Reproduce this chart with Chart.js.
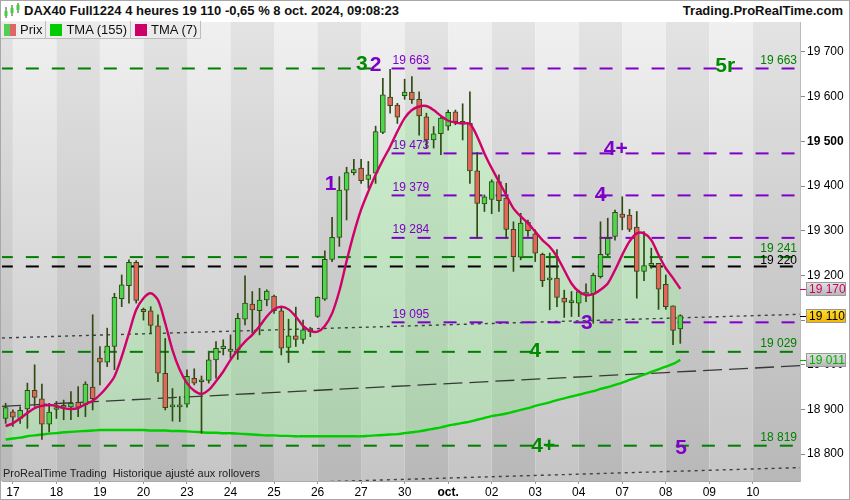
<!DOCTYPE html>
<html>
<head>
<meta charset="utf-8">
<script src="https://cdn.jsdelivr.net/npm/chart.js@4.4.1/dist/chart.umd.min.js"></script>
<style>
  body { margin: 0; background: #fff; font-family: "Liberation Sans", Arial, sans-serif; }
  #wrap { position: relative; width: 850px; height: 500px; overflow: hidden; }
  #chart { position: absolute; left: 0; top: 0; }
  #title { position: absolute; left: 0; top: 0; width: 850px; height: 21px; background: #fff; }
  #title .l { position: absolute; left: 24px; top: 3px; font-weight: bold; font-size: 13px; color: #111; white-space: nowrap; }
  #title .r { position: absolute; right: 7px; top: 3px; font-weight: bold; font-size: 13px; color: #111; }
  #title svg { position: absolute; left: 3px; top: 3px; }
  #legend { position: absolute; left: 0; top: 21px; height: 18px; display: flex; }
  #legend div { height: 17px; border-right: 1px solid #bdbdbd; border-bottom: 1px solid #bdbdbd; background: rgba(238,238,238,0.7);
    font-size: 13px; line-height: 17px; padding: 0 3px 0 4px; display: flex; align-items: center; color: #111; }
  #legend i { display: inline-block; width: 12px; height: 12px; margin-right: 4px; }
  #foot { position: absolute; left: 3px; top: 467px; font-size: 11px; color: #222; white-space: nowrap; }
  #frame { position: absolute; left: 0; top: 0; width: 848px; height: 498px; border: 1px solid #a8a8a8; pointer-events: none; }
</style>
</head>
<body>
<div id="wrap">
  <canvas id="chart" width="850" height="500"></canvas>
  <div id="title">
    <svg width="18" height="16" viewBox="0 0 18 16">
      <line x1="3" y1="4" x2="3" y2="15" stroke="#2d5a10"/><rect x="1.5" y="8" width="3" height="5" fill="#44cc44"/>
      <line x1="9" y1="2" x2="9" y2="13" stroke="#2d5a10"/><rect x="7.5" y="5" width="3" height="5" fill="#44cc44"/>
      <line x1="15" y1="0" x2="15" y2="10" stroke="#2d5a10"/><rect x="13.5" y="2" width="3" height="5" fill="#44cc44"/>
    </svg>
    <span class="l" id="titleText"></span>
    <span class="r">Trading.ProRealTime.com</span>
  </div>
  <div id="legend">
    <div><i style="background:linear-gradient(90deg,#55cc55 50%,#e06666 50%)"></i>Prix</div>
    <div><i style="background:#00cc00"></i>TMA (155)</div>
    <div><i style="background:#cc0066"></i>TMA (7)</div>
  </div>
  <div id="foot">ProRealTime Trading&nbsp; Historique ajusté aux rollovers</div>
  <div id="frame"></div>
</div>
<script>
// day labels, one every 6 candles (4h bars)
const days = ['17', '18', '19', '20', '23', '24', '25', '26', '27', '30', 'oct.', '02', '03', '04', '07', '08', '09', '10'];

const opens = [18880, 18895, 18880, 18901, 18943, 18924, 18867, 18900, 18905, 18906, 18916, 18910, 18950, 19015, 19006, 19041,
  19148, 19177, 19229, 19124, 19121, 19087, 18981, 18906, 18906, 18912, 18970, 18962, 18965, 19011, 19036, 19030,
  19033, 19102, 19136, 19121, 19145, 19154, 19121, 19039, 19065, 19057, 19074, 19108, 19147, 19236, 19285, 19391,
  19430, 19440, 19415, 19429, 19520, 19599, 19581, 19602, 19610, 19594, 19555, 19503, 19517, 19534, 19566, 19544,
  19540, 19434, 19360, 19370, 19410, 19373, 19303, 19241, 19319, 19293, 19247, 19190, 19194, 19149, 19139, 19138,
  19158, 19159, 19197, 19247, 19287, 19337, 19335, 19308, 19209, 19222, 19227, 19180, 19132, 19080];
const highs = [18914, 18899, 18906, 18959, 19000, 18957, 18914, 18918, 18921, 18940, 18951, 18962, 19112, 19041, 19082, 19160,
  19201, 19235, 19233, 19127, 19130, 19112, 19059, 18947, 18929, 18989, 18991, 18975, 19027, 19052, 19056, 19067,
  19115, 19199, 19164, 19171, 19168, 19156, 19127, 19102, 19129, 19100, 19084, 19152, 19255, 19330, 19421, 19442,
  19460, 19460, 19455, 19534, 19641, 19661, 19585, 19639, 19645, 19611, 19563, 19533, 19555, 19570, 19570, 19584,
  19611, 19475, 19380, 19414, 19425, 19406, 19320, 19339, 19324, 19302, 19250, 19250, 19258, 19167, 19164, 19167,
  19181, 19205, 19320, 19328, 19346, 19376, 19348, 19343, 19298, 19261, 19227, 19201, 19132, 19112];
const lows = [18869, 18862, 18869, 18858, 18907, 18833, 18850, 18880, 18877, 18877, 18884, 18884, 18899, 18955, 18996, 18989,
  19130, 19138, 19138, 19100, 19071, 18962, 18899, 18874, 18873, 18905, 18955, 18847, 18959, 18970, 19022, 19015,
  19012, 19089, 19071, 19067, 19132, 19115, 19022, 19005, 19041, 19048, 19063, 19106, 19144, 19231, 19265, 19324,
  19425, 19406, 19395, 19406, 19517, 19563, 19540, 19594, 19585, 19514, 19485, 19485, 19470, 19525, 19537, 19503,
  19406, 19283, 19343, 19338, 19343, 19283, 19209, 19235, 19287, 19231, 19175, 19123, 19130, 19106, 19108, 19108,
  19141, 19093, 19194, 19244, 19279, 19302, 19298, 19149, 19188, 19216, 19124, 19124, 19045, 19048];
const closes = [18904, 18883, 18898, 18943, 18927, 18867, 18894, 18902, 18909, 18914, 18905, 18957, 18924, 19006, 19042, 19151,
  19179, 19229, 19144, 19119, 19088, 18981, 18904, 18908, 18908, 18974, 18959, 18964, 19011, 19037, 19042, 19035,
  19104, 19138, 19123, 19145, 19165, 19121, 19037, 19065, 19057, 19078, 19080, 19151, 19236, 19285, 19391, 19430,
  19437, 19412, 19425, 19522, 19604, 19580, 19554, 19610, 19593, 19557, 19503, 19517, 19552, 19565, 19544, 19540,
  19434, 19361, 19376, 19410, 19367, 19303, 19242, 19317, 19300, 19250, 19188, 19192, 19151, 19140, 19141, 19164,
  19160, 19200, 19247, 19283, 19341, 19330, 19303, 19209, 19222, 19227, 19169, 19130, 19077, 19110];

const tma7 = [18863, 18869, 18880, 18892, 18903, 18908, 18910, 18908, 18903, 18901, 18903, 18912, 18919, 18933, 18951, 18974,
  19018, 19071, 19123, 19149, 19160, 19145, 19093, 19033, 18989, 18959, 18942, 18935, 18944, 18963, 18985, 19011,
  19033, 19052, 19067, 19086, 19108, 19124, 19130, 19124, 19108, 19087, 19076, 19074, 19087, 19115, 19165, 19232,
  19294, 19347, 19388, 19425, 19458, 19488, 19522, 19552, 19570, 19578, 19579, 19570, 19557, 19546, 19542, 19540,
  19539, 19511, 19473, 19440, 19410, 19380, 19350, 19332, 19317, 19298, 19279, 19264, 19242, 19212, 19182, 19164,
  19156, 19158, 19168, 19182, 19212, 19246, 19276, 19294, 19294, 19279, 19246, 19216, 19194, 19170];
const tma155 = [18833, 18835, 18837, 18840, 18842, 18844, 18846, 18847, 18849, 18850, 18851, 18852, 18853, 18854, 18854, 18854,
  18854, 18854, 18854, 18854, 18853, 18853, 18853, 18852, 18852, 18851, 18850, 18849, 18848, 18848, 18847, 18847,
  18846, 18845, 18844, 18843, 18842, 18842, 18841, 18841, 18840, 18840, 18840, 18840, 18840, 18840, 18840, 18840,
  18840, 18840, 18841, 18842, 18843, 18844, 18845, 18847, 18849, 18851, 18854, 18857, 18860, 18864, 18867, 18870,
  18873, 18877, 18881, 18885, 18888, 18891, 18895, 18899, 18903, 18908, 18912, 18916, 18921, 18925, 18929, 18933,
  18937, 18941, 18946, 18950, 18955, 18960, 18966, 18972, 18978, 18984, 18990, 18996, 19002, 19011];

// horizontal levels
const greenLevels = [19663, 19241, 19029, 18819];
const purpleLevels = [19663, 19473, 19379, 19284, 19095];
const blackLevels = [19220];
// trend lines: value at left edge, value at right edge
const trendDotted = [19060, 19113];
const trendDashed = [18907, 18998];
const trendLow = [18717, 18770];

const yTickValues = [18800, 18900, 19000, 19100, 19200, 19300, 19400, 19500, 19600, 19700];

// wave counts: text, colour, candle index, price
const waveLabels = [
  ['3', '#008a00', 49.1, 19674], ['2', '#7f00c8', 51.0, 19672], ['5r', '#008a00', 99.2, 19671],
  ['1', '#7f00c8', 44.8, 19406], ['4+', '#7f00c8', 84.1, 19485], ['4', '#7f00c8', 82.0, 19381],
  ['3', '#7f00c8', 80.1, 19096], ['4', '#008a00', 73.0, 19033], ['4+', '#008a00', 74.1, 18819],
  ['5', '#7f00c8', 93.1, 18815]
];

const GREEN = '#008000', PURPLE = '#7f00c8';
const X_MIN = -0.5, X_MAX = 109.5, PURPLE_FROM = 53.2, GREEN_TOP_TO = 50.4;
const dayStarts = days.map((d, k) => 1 + 6 * k);

const fmt = (n) => String(Math.round(n)).replace(/\B(?=(\d{3})+(?!\d))/g, ' ');
const last = (a) => a[a.length - 1];

document.getElementById('titleText').textContent =
  'DAX40 Full1224 4 heures ' + fmt(last(closes)) + ' -0,65 % 8 oct. 2024, 09:08:23';

const idx = opens.map((_, i) => i);

const levelLine = (v, from, to, color) => ({
  type: 'line', data: [{ x: from, y: v }, { x: to, y: v }], borderColor: color, borderWidth: 2,
  borderDash: [13, 13], pointRadius: 0, tension: 0, order: 4
});
const trendLine = (ends, color, dash, width) => ({
  type: 'line', data: [{ x: X_MIN, y: ends[0] }, { x: X_MAX, y: ends[1] }], borderColor: color,
  borderWidth: width, borderDash: dash, pointRadius: 0, tension: 0, order: 5
});

const datasets = [
  {
    type: 'line', data: idx.map(i => ({ x: i, y: tma7[i] })), borderColor: '#d1006a', borderWidth: 2.4,
    pointRadius: 0, tension: 0.3, order: 0,
    fill: { target: 1, above: 'rgba(150,245,150,0.35)', below: 'rgba(150,245,150,0.35)' }
  },
  {
    type: 'line', data: idx.map(i => ({ x: i, y: tma155[i] })), borderColor: '#00cc00', borderWidth: 2.4,
    pointRadius: 0, tension: 0.3, order: 3
  },
  {
    type: 'bar', data: idx.map(i => ({ x: i, y: [opens[i], closes[i]] })),
    backgroundColor: idx.map(i => closes[i] >= opens[i] ? '#4fd64f' : '#e2665c'),
    borderColor: '#2f4a12', borderWidth: 1, borderSkipped: false, barThickness: 5, minBarLength: 2,
    grouped: false, order: 1
  },
  {
    type: 'bar', data: idx.map(i => ({ x: i, y: [lows[i], highs[i]] })),
    backgroundColor: '#2f4a12', barThickness: 1, grouped: false, order: 2
  },
  trendLine(trendDotted, 'rgba(40,40,40,0.85)', [3, 4], 1.4),
  trendLine(trendDashed, 'rgba(30,30,30,0.85)', [19, 7], 1.3),
  trendLine(trendLow, 'rgba(40,40,40,0.85)', [3, 4], 1.4)
];
greenLevels.forEach((v, k) => datasets.push(levelLine(v, -0.8, k === 0 ? GREEN_TOP_TO : X_MAX, GREEN)));
purpleLevels.forEach(v => datasets.push(levelLine(v, PURPLE_FROM, X_MAX, PURPLE)));
blackLevels.forEach(v => datasets.push(levelLine(v, -0.8, X_MAX, '#000')));

const bgPlugin = {
  id: 'bg',
  beforeDraw(chart) {
    const { ctx, chartArea: a, scales: { x } } = chart;
    const edges = [null].concat(dayStarts);
    for (let k = 0; k < edges.length; k++) {
      const x0 = k === 0 ? 0 : x.getPixelForValue(edges[k]);
      const x1 = k + 1 < edges.length ? x.getPixelForValue(edges[k + 1]) : a.right;
      const lightDay = k > 0 && (k - 1) % 2 === 0;
      const g = ctx.createLinearGradient(0, a.top, 0, a.bottom);
      g.addColorStop(0, lightDay ? '#f0f0f0' : '#e3e3e3');
      g.addColorStop(1, lightDay ? '#c5c5c5' : '#b8b8b8');
      ctx.fillStyle = g;
      ctx.fillRect(x0, a.top, x1 - x0, a.bottom - a.top);
    }
  }
};

const textPlugin = {
  id: 'texts',
  afterDatasetsDraw(chart) {
    const { ctx, chartArea: a, scales: { x, y } } = chart;
    ctx.save();
    ctx.textBaseline = 'middle';
    ctx.font = '12px "Liberation Sans", Arial, sans-serif';
    ctx.textAlign = 'left';
    ctx.fillStyle = PURPLE;
    purpleLevels.forEach(v => ctx.fillText(fmt(v), x.getPixelForValue(PURPLE_FROM) + 1, y.getPixelForValue(v) - 8));
    ctx.textAlign = 'right';
    ctx.fillStyle = GREEN;
    greenLevels.forEach(v => ctx.fillText(fmt(v), a.right - 3, y.getPixelForValue(v) - 8));
    ctx.fillStyle = '#000';
    blackLevels.forEach(v => ctx.fillText(fmt(v), a.right - 3, y.getPixelForValue(v) - 6));
    ctx.textAlign = 'center';
    ctx.font = 'bold 21px "Liberation Sans", Arial, sans-serif';
    waveLabels.forEach(([t, c, i, v]) => {
      ctx.fillStyle = c;
      ctx.fillText(t, x.getPixelForValue(i), y.getPixelForValue(v) + 1);
    });
    ctx.restore();
  },
  afterDraw(chart) {
    const { ctx, scales: { y } } = chart;
    const boxes = [
      [last(tma7), '#cc0066', '#e4e4e4', '#b4b4b4'],
      [last(closes), '#000', '#ffdd33', '#f2b400'],
      [last(tma155), '#00b000', '#e4e4e4', '#b4b4b4']
    ];
    ctx.save();
    ctx.font = '12px "Liberation Sans", Arial, sans-serif';
    ctx.textBaseline = 'middle';
    ctx.textAlign = 'left';
    boxes.forEach(([v, col, c1, c2]) => {
      const py = Math.round(y.getPixelForValue(v));
      const x0 = y.left + 6, w = 40, h = 14;
      const g = ctx.createLinearGradient(0, py - h / 2, 0, py + h / 2);
      g.addColorStop(0, c1); g.addColorStop(1, c2);
      ctx.fillStyle = g;
      ctx.fillRect(x0, py - h / 2, w, h);
      ctx.strokeStyle = '#9a9a9a';
      ctx.lineWidth = 1;
      ctx.strokeRect(x0 + 0.5, py - h / 2 + 0.5, w - 1, h - 1);
      ctx.strokeStyle = col;
      ctx.beginPath(); ctx.moveTo(y.left, py + 0.5); ctx.lineTo(x0, py + 0.5); ctx.stroke();
      ctx.fillStyle = col;
      ctx.fillText(fmt(v), x0 + 3, py + 0.5);
    });
    ctx.restore();
  }
};

Chart.defaults.font.family = '"Liberation Sans", Arial, sans-serif';
Chart.defaults.font.size = 12;
Chart.defaults.color = '#000';

new Chart(document.getElementById('chart'), {
  type: 'bar',
  data: { datasets },
  options: {
    responsive: false,
    animation: false,
    layout: { padding: { top: 22, left: 2, right: 0, bottom: 0 } },
    plugins: { legend: { display: false }, tooltip: { enabled: false }, filler: { drawTime: 'beforeDatasetsDraw' } },
    scales: {
      x: {
        type: 'linear', min: X_MIN, max: X_MAX, offset: false,
        grid: { drawOnChartArea: false, offset: false, tickLength: 3, color: '#999' },
        border: { color: '#aaa' },
        afterBuildTicks: (s) => { s.ticks = dayStarts.map(v => ({ value: v })); },
        afterFit: (s) => { s.height = 19; },
        ticks: {
          padding: 1, maxRotation: 0, autoSkip: false,
          callback: (v) => days[dayStarts.indexOf(v)],
          font: (c) => ({ size: 12, weight: c.tick && c.tick.value === dayStarts[days.indexOf('oct.')] ? 'bold' : 'normal' })
        }
      },
      y: {
        type: 'linear', position: 'right', min: 18740, max: 19767,
        grid: { drawOnChartArea: false, tickLength: 5, color: '#888' },
        border: { color: '#bbb' },
        afterBuildTicks: (s) => { s.ticks = yTickValues.map(v => ({ value: v })); },
        afterFit: (s) => { s.width = 50; },
        ticks: {
          padding: 2,
          callback: (v) => fmt(v),
          font: (c) => ({ size: 12, weight: c.tick && c.tick.value === 19500 ? 'bold' : 'normal' })
        }
      }
    }
  },
  plugins: [bgPlugin, textPlugin]
});
</script>
</body>
</html>
